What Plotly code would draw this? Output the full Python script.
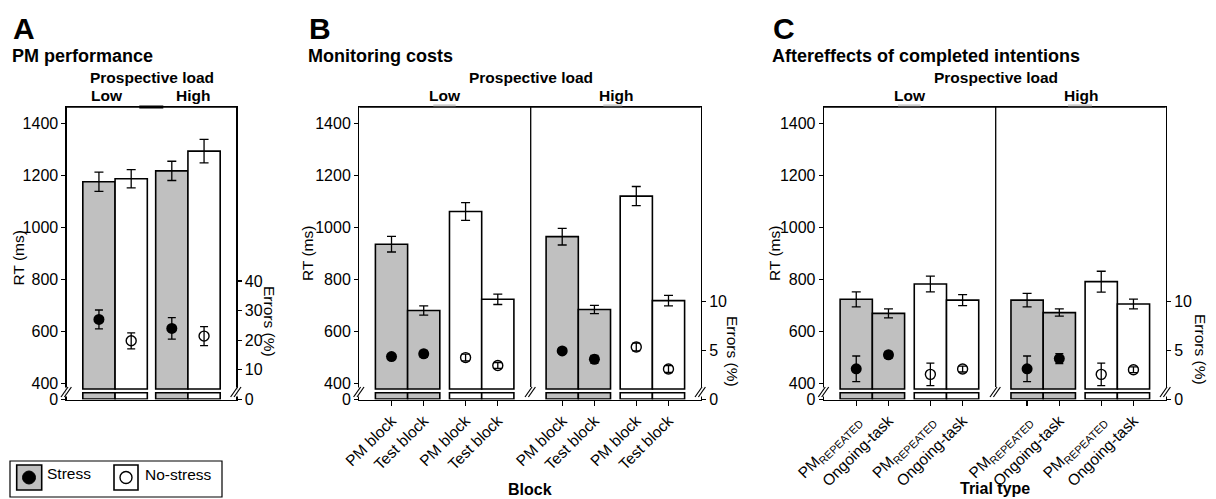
import plotly.graph_objects as go

W, H = 1216, 499
FONT = "Liberation Sans, Arial, sans-serif"
GRAY = "#c0c0c0"

# ---------------- data ----------------
loads = ["Low", "High"]
stress_groups = ["Stress", "No-stress"]

# Panel A: PM performance (order: Low, High)
A_rt_stress = [1175, 1217]
A_rt_stress_se = [37, 37]
A_rt_nostress = [1187, 1293]
A_rt_nostress_se = [35, 45]
A_err_stress = [27.0, 24.0]
A_err_stress_se = [3.2, 3.6]
A_err_nostress = [19.8, 21.4]
A_err_nostress_se = [2.7, 3.2]

# Panel B: Monitoring costs (order: Low PM, Low Test, High PM, High Test)
B_labels = ["PM block", "Test block"]
B_rt_stress = [935, 680, 964, 684]
B_rt_stress_se = [30, 18, 32, 16]
B_rt_nostress = [1061, 723, 1120, 718]
B_rt_nostress_se = [34, 20, 37, 20]
B_err_stress = [4.37, 4.65, 4.95, 4.1]
B_err_stress_se = [0.25, 0.35, 0.25, 0.4]
B_err_nostress = [4.27, 3.47, 5.35, 3.1]
B_err_nostress_se = [0.35, 0.3, 0.4, 0.35]

# Panel C: Aftereffects (order: Low PMrep, Low Ongoing, High PMrep, High Ongoing)
C_labels = ["PM<sub>REPEATED</sub>", "Ongoing-task"]
C_rt_stress = [723, 669, 720, 672]
C_rt_stress_se = [29, 17, 26, 14]
C_rt_nostress = [782, 720, 791, 705]
C_rt_nostress_se = [30, 21, 40, 19]
C_err_stress = [3.13, 4.55, 3.13, 4.17]
C_err_stress_se = [1.3, 0.35, 1.3, 0.5]
C_err_nostress = [2.56, 3.1, 2.56, 3.03]
C_err_nostress_se = [1.15, 0.3, 1.15, 0.3]

RT_ticks = [400, 600, 800, 1000, 1200, 1400]

# ---------------- style constants ----------------
RT_MIN, RT_MAX = 337.7, 1462.7
BAR_BASE = 378
STUB_LO, STUB_HI = 339.6, 363.8
BOX_TOP, BOX_BOT = 107, 399.5


def fx(px):
    return px / W


def fy(py):
    return 1 - py / H


fig = go.Figure()
shapes = []
annotations = []


def txt(x, y, s, size, bold=False, angle=0, xanchor="center", yanchor="middle"):
    annotations.append(dict(
        x=fx(x), y=fy(y), xref="paper", yref="paper", text=("<b>%s</b>" % s) if bold else s,
        showarrow=False, xanchor=xanchor, yanchor=yanchor, textangle=angle,
        font=dict(family=FONT, size=size, color="black")))


def hline(x0, x1, y, color, width):
    shapes.append(dict(type="line", xref="paper", yref="paper", x0=fx(x0), x1=fx(x1),
                       y0=fy(y), y1=fy(y), line=dict(color=color, width=width), layer="above"))


def brk(x, y=392):
    shapes.append(dict(type="rect", xref="paper", yref="paper",
                       x0=fx(x - 1.6), x1=fx(x + 1.6), y0=fy(396.5), y1=fy(387.5),
                       fillcolor="white", line=dict(width=0), layer="above"))
    for dx in (-2.2, 1.2):
        shapes.append(dict(type="line", xref="paper", yref="paper",
                           x0=fx(x + dx - 3.5), y0=fy(y + 5), x1=fx(x + dx + 3.5), y1=fy(y - 5),
                           line=dict(color="black", width=1.2), layer="above"))


def add_panel(k, xl, xr, n_units, xs_s, xs_n, rt_s, rt_s_se, rt_n, rt_n_se,
              er_s, er_s_se, er_n, er_n_se, err_range, err_ticks, ticktext, show_xticks):
    xa = "x" if k == 1 else "x%d" % k
    ya = "y" if k == 1 else "y%d" % (2 * k - 1)
    ye = "y%d" % (2 * k)
    line = dict(color="black", width=1.6)
    # stubs
    fig.add_trace(go.Bar(x=xs_s, y=[STUB_HI - STUB_LO] * len(xs_s), base=STUB_LO, width=1,
                         marker=dict(color=GRAY, line=line), xaxis=xa, yaxis=ya, showlegend=False))
    fig.add_trace(go.Bar(x=xs_n, y=[STUB_HI - STUB_LO] * len(xs_n), base=STUB_LO, width=1,
                         marker=dict(color="white", line=line), xaxis=xa, yaxis=ya, showlegend=False))
    # main bars
    fig.add_trace(go.Bar(x=xs_s, y=[v - BAR_BASE for v in rt_s], base=BAR_BASE, width=1,
                         marker=dict(color=GRAY, line=line), xaxis=xa, yaxis=ya, showlegend=False))
    fig.add_trace(go.Bar(x=xs_n, y=[v - BAR_BASE for v in rt_n], base=BAR_BASE, width=1,
                         marker=dict(color="white", line=line), xaxis=xa, yaxis=ya, showlegend=False))
    # RT error bars
    fig.add_trace(go.Scatter(x=xs_s + xs_n, y=rt_s + rt_n, mode="markers",
                             marker=dict(size=1, color="rgba(0,0,0,0)"),
                             error_y=dict(type="data", array=rt_s_se + rt_n_se, color="black",
                                          thickness=1.3, width=4.5),
                             xaxis=xa, yaxis=ya, showlegend=False))
    # Errors (%)
    fig.add_trace(go.Scatter(x=xs_s, y=er_s, mode="markers",
                             marker=dict(size=11, color="black", symbol="circle"),
                             error_y=dict(type="data", array=er_s_se, color="black",
                                          thickness=1.3, width=4),
                             xaxis=xa, yaxis=ye, showlegend=False))
    fig.add_trace(go.Scatter(x=xs_n, y=er_n, mode="markers",
                             marker=dict(size=10, color="black", symbol="circle-open",
                                         line=dict(width=1.4)),
                             error_y=dict(type="data", array=er_n_se, color="black",
                                          thickness=1.3, width=4),
                             xaxis=xa, yaxis=ye, showlegend=False))

    xs_all = xs_s + xs_n
    tt = ticktext if ticktext else [""] * len(xs_all)
    xkey = "xaxis" if k == 1 else "xaxis%d" % k
    ykey = "yaxis" if k == 1 else "yaxis%d" % (2 * k - 1)
    ekey = "yaxis%d" % (2 * k)
    fig.layout[xkey] = dict(
        domain=[fx(xl), fx(xr)], range=[0, n_units], anchor=ya, automargin=False,
        showline=True, mirror=True, linecolor="black", linewidth=1.3,
        showgrid=False, zeroline=False, fixedrange=True,
        tickmode="array", tickvals=xs_all, ticktext=tt,
        ticks="outside" if show_xticks else "", ticklen=5, tickwidth=1.2, tickcolor="black",
        tickangle=-45, tickfont=dict(family=FONT, size=15.5, color="black"))
    fig.layout[ykey] = dict(
        domain=[fy(BOX_BOT), fy(BOX_TOP)], range=[RT_MIN, RT_MAX], anchor=xa, automargin=False,
        showline=True, linecolor="black", linewidth=1.3, showgrid=False, zeroline=False,
        fixedrange=True,
        tickmode="array", tickvals=[338] + RT_ticks, ticktext=["0"] + [str(t) for t in RT_ticks],
        ticks="outside", ticklen=4, tickwidth=1.2, tickcolor="black",
        tickfont=dict(family=FONT, size=16, color="black"))
    fig.layout[ekey] = dict(
        overlaying=ya, side="right", anchor=xa, range=err_range, automargin=False,
        showline=True, linecolor="black", linewidth=1.3, showgrid=False, zeroline=False,
        fixedrange=True,
        tickmode="array", tickvals=err_ticks, ticktext=[str(t) for t in err_ticks],
        ticks="outside", ticklen=4, tickwidth=1.2, tickcolor="black",
        tickfont=dict(family=FONT, size=16, color="black"))
    # top frame line
    hline(xl, xr, BOX_TOP, "black", 1.3)
    brk(xl)
    brk(xr)


# Panel A positions
A_xs_s = [1.0 + li * 2.26 for li in range(len(loads))]
A_xs_n = [2.0 + li * 2.26 for li in range(len(loads))]
add_panel(1, 66.7, 236.3, 5.26, A_xs_s, A_xs_n,
          A_rt_stress, A_rt_stress_se, A_rt_nostress, A_rt_nostress_se,
          A_err_stress, A_err_stress_se, A_err_nostress, A_err_nostress_se,
          [0, 98.7], [0, 10, 20, 30, 40], None, False)

# Panels B, C positions
BC_xs_s = [1.0 + li * 5.3 + bi for li in range(2) for bi in range(2)]
BC_xs_n = [3.3 + li * 5.3 + bi for li in range(2) for bi in range(2)]
add_panel(2, 359.3, 700.7, 10.6, BC_xs_s, BC_xs_n,
          B_rt_stress, B_rt_stress_se, B_rt_nostress, B_rt_nostress_se,
          B_err_stress, B_err_stress_se, B_err_nostress, B_err_nostress_se,
          [0, 29.8], [0, 5, 10], B_labels * 4, True)
add_panel(3, 824, 1165.7, 10.6, BC_xs_s, BC_xs_n,
          C_rt_stress, C_rt_stress_se, C_rt_nostress, C_rt_nostress_se,
          C_err_stress, C_err_stress_se, C_err_nostress, C_err_nostress_se,
          [0, 29.8], [0, 5, 10], C_labels * 4, True)

# dividers in B and C
for xd in (530.7, 995.7):
    shapes.append(dict(type="line", xref="paper", yref="paper", x0=fx(xd), x1=fx(xd),
                       y0=fy(BOX_TOP), y1=fy(387), line=dict(color="black", width=1.3)))
    brk(xd)

# small header underline artefacts on the top frame
hline(139.3, 163.3, 107, "black", 3)
for a, b in [(433.3, 455.7), (603.3, 622.3), (898, 920.7), (1068, 1092)]:
    hline(a, b, 105.3, "#d0d0d0", 2)

# panel letters and titles
for x0, letter, title in [(11, "A", "PM performance"), (307, "B", "Monitoring costs"),
                          (771, "C", "Aftereffects of completed intentions")]:
    txt(x0, 28, letter, 30, bold=True, xanchor="left")
    txt(x0 - 1, 56, title, 18, bold=True, xanchor="left")

# prospective load headers
for cx, lx, hx in [(151.5, 107, 193), (530.7, 445, 616), (995.7, 910, 1081)]:
    txt(cx, 78, "Prospective load", 15.5, bold=True)
    txt(lx, 96, loads[0], 15.5, bold=True)
    txt(hx, 96, loads[1], 15.5, bold=True)

# axis titles
for x0, y0 in [(17.5, 258), (308, 254), (775, 254)]:
    txt(x0, y0, "RT (ms)", 15.5, angle=-90)
for x0, y0 in [(270, 321), (733, 351), (1201, 349)]:
    txt(x0, y0, "Errors (%)", 15.5, angle=90)
txt(530, 489, "Block", 16, bold=True)
txt(995, 488, "Trial type", 16, bold=True)

# legend
shapes.append(dict(type="rect", xref="paper", yref="paper", x0=fx(10), x1=fx(222),
                   y0=fy(497), y1=fy(461), line=dict(color="black", width=1.2), fillcolor="white"))
shapes.append(dict(type="rect", xref="paper", yref="paper", x0=fx(16.7), x1=fx(41.7),
                   y0=fy(490), y1=fy(465), line=dict(color="black", width=1.6), fillcolor=GRAY))
shapes.append(dict(type="circle", xref="paper", yref="paper", x0=fx(22.5), x1=fx(35.5),
                   y0=fy(484), y1=fy(471), line=dict(color="black", width=1), fillcolor="black"))
shapes.append(dict(type="rect", xref="paper", yref="paper", x0=fx(114), x1=fx(138),
                   y0=fy(490), y1=fy(465), line=dict(color="black", width=1.6), fillcolor="white"))
shapes.append(dict(type="circle", xref="paper", yref="paper", x0=fx(120), x1=fx(132),
                   y0=fy(483.5), y1=fy(471.5), line=dict(color="black", width=1.4), fillcolor="white"))
txt(45, 473, stress_groups[0], 15.5, xanchor="left")
txt(143, 474, stress_groups[1], 15.5, xanchor="left")

fig.update_layout(
    width=W, height=H, autosize=False,
    margin=dict(l=0, r=0, t=0, b=0, pad=0),
    paper_bgcolor="white", plot_bgcolor="rgba(0,0,0,0)",
    barmode="overlay", bargap=0,
    shapes=shapes, annotations=annotations,
    font=dict(family=FONT, color="black"),
    showlegend=False, hovermode=False,
)

fig.write_html("out.html", config={"displayModeBar": False, "staticPlot": True},
               post_script="document.body.style.margin='0';document.body.style.overflow='hidden';")
